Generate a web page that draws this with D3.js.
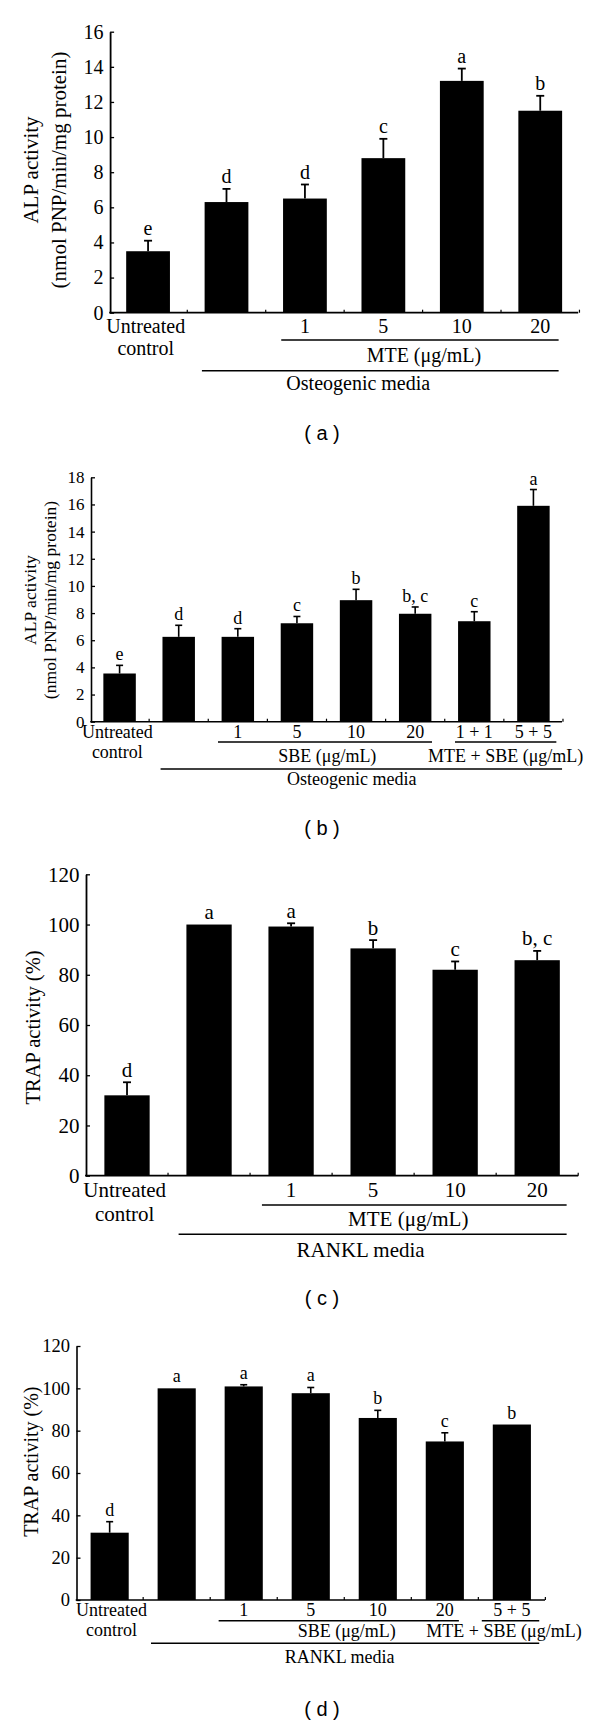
<!DOCTYPE html>
<html><head><meta charset="utf-8">
<script src="https://cdn.jsdelivr.net/npm/d3@7"></script>
<style>body{margin:0;background:#fff}svg{display:block}text{font-family:"Liberation Serif","Times New Roman",serif;fill:#000}</style>
</head><body>
<script>
// ---------- Panel (a) ----------
const aTickLabels = [["Untreated","control"],[""],["1"],["5"],["10"],["20"]];
const aValues = [3.5, 6.3, 6.5, 8.8, 13.2, 11.5];
const aErrors = [0.6, 0.75, 0.8, 1.1, 0.7, 0.85];
const aLetters = ["e","d","d","c","a","b"];
const aYTicks = [0,2,4,6,8,10,12,14,16];
const aGroups = [{label:"MTE (\u03bcg/mL)", from:2, to:5, row:1},{label:"Osteogenic media", from:1, to:5, row:2}];
const aTitle = ["ALP activity","(nmol PNP/min/mg protein)"];

// ---------- Panel (b) ----------
const bTickLabels = [["Untreated","control"],[""],["1"],["5"],["10"],["20"],["1 + 1"],["5 + 5"]];
const bValues = [3.55, 6.25, 6.25, 7.25, 8.95, 7.95, 7.4, 15.9];
const bErrors = [0.6, 0.85, 0.6, 0.5, 0.8, 0.5, 0.7, 1.2];
const bLetters = ["e","d","d","c","b","b, c","c","a"];
const bYTicks = [0,2,4,6,8,10,12,14,16,18];
const bGroups = [{label:"SBE (\u03bcg/mL)", from:2, to:5, row:1},{label:"MTE + SBE (\u03bcg/mL)", from:6, to:7, row:1},{label:"Osteogenic media", from:1, to:7, row:2}];
const bTitle = ["ALP activity","(nmol PNP/min/mg protein)"];

// ---------- Panel (c) ----------
const cTickLabels = [["Untreated","control"],[""],["1"],["5"],["10"],["20"]];
const cValues = [32, 100, 99.2, 90.5, 82, 85.8];
const cErrors = [5.2, 0, 1.3, 3.3, 3.3, 3.7];
const cLetters = ["d","a","a","b","c","b, c"];
const cYTicks = [0,20,40,60,80,100,120];
const cGroups = [{label:"MTE (\u03bcg/mL)", from:2, to:5, row:1},{label:"RANKL media", from:1, to:5, row:2}];
const cTitle = ["TRAP activity (%)"];

// ---------- Panel (d) ----------
const dTickLabels = [["Untreated","control"],[""],["1"],["5"],["10"],["20"],["5 + 5"]];
const dValues = [31.8, 100, 100.9, 97.7, 86, 74.9, 82.9];
const dErrors = [5.2, 0, 0.8, 2.7, 3.6, 4.1, 0];
const dLetters = ["d","a","a","a","b","c","b"];
const dYTicks = [0,20,40,60,80,100,120];
const dGroups = [{label:"SBE (\u03bcg/mL)", from:2, to:5, row:1},{label:"MTE + SBE (\u03bcg/mL)", from:6, to:6, row:1},{label:"RANKL media", from:1, to:6, row:2}];
const dTitle = ["TRAP activity (%)"];

const svg = d3.select("body").append("svg").attr("width",600).attr("height",1720);

function panel(data, L){
  const g = svg.append("g");
  const n = data.values.length;
  const x = d3.scaleBand().domain(d3.range(n)).range([L.x0, L.x1]).paddingInner(L.pi).paddingOuter(L.po);
  const y = d3.scaleLinear().domain([0, data.yTicks[data.yTicks.length-1]]).range([L.y0, L.yTop]);
  const bw = x.bandwidth(), step = x.step();
  // bars
  g.selectAll("rect.bar").data(data.values).enter().append("rect")
    .attr("x",(d,i)=>x(i)).attr("width",bw)
    .attr("y",d=>y(d)).attr("height",d=>y(0)-y(d)).attr("fill","#000");
  // error bars + letters
  data.values.forEach((v,i)=>{
    const e = data.errors[i];
    const cx = x(i)+bw/2;
    if(e>0){
      g.append("line").attr("x1",cx).attr("x2",cx).attr("y1",y(v)).attr("y2",y(v+e)).attr("stroke","#000").attr("stroke-width",L.ew);
      g.append("line").attr("x1",cx-L.cap).attr("x2",cx+L.cap).attr("y1",y(v+e)).attr("y2",y(v+e)).attr("stroke","#000").attr("stroke-width",L.ew);
    }
    g.append("text").attr("x",cx).attr("y",y(v+e)-L.letterGap)
      .attr("text-anchor","middle").attr("font-size",L.letterFont).text(data.letters[i]);
  });
  // y axis (ticks point inward)
  const ya = g.append("g").attr("transform",`translate(${L.x0},0)`)
    .call(d3.axisLeft(y).tickValues(data.yTicks).tickSize(-4).tickSizeOuter(0).tickPadding(6.5));
  ya.select(".domain").attr("stroke-width",L.aw);
  ya.selectAll(".tick line").attr("stroke-width",1.3);
  ya.selectAll(".tick text").attr("font-size",L.yFont);
  // x axis with small inward ticks at band boundaries
  g.append("line").attr("x1",L.x0-L.aw/2).attr("x2",L.x1).attr("y1",L.y0).attr("y2",L.y0).attr("stroke","#000").attr("stroke-width",L.aw);
  for(let i=1;i<=n;i++){
    const tx = x(i-1) + bw + step*L.pi/2;
    g.append("line").attr("x1",tx).attr("x2",tx).attr("y1",L.y0).attr("y2",L.y0-3).attr("stroke","#000").attr("stroke-width",1.2);
  }
  // category labels
  data.tickLabels.forEach((lines,i)=>{
    lines.forEach((t,j)=>{
      g.append("text").attr("x",x(i)+bw/2 + (i===0?L.ucDx:0)).attr("y",L.labY + j*L.labLine)
        .attr("text-anchor","middle").attr("font-size",L.xFont).text(t);
    });
  });
  // group brackets
  data.groups.forEach((gr,k)=>{
    const p = L.groupPads[k];
    const xa = x(gr.from) - p[0], xb = x(gr.to)+bw + p[1];
    const ly = gr.row===1 ? L.row1Line : L.row2Line;
    const ty = gr.row===1 ? L.row1Text : L.row2Text;
    g.append("line").attr("x1",xa).attr("x2",xb).attr("y1",ly).attr("y2",ly).attr("stroke","#000").attr("stroke-width",1.6);
    g.append("text").attr("x",(xa+xb)/2 + p[2]).attr("y",ty).attr("text-anchor","middle").attr("font-size",L.xFont).text(gr.label);
  });
  // y title
  data.title.forEach((t,j)=>{
    g.append("text").attr("transform",`translate(${L.titleX[j]},${L.titleY}) rotate(-90)`)
      .attr("text-anchor","middle").attr("dominant-baseline","central").attr("font-size",L.titleFont).text(t);
  });
  // panel label
  svg.append("text").attr("x",322).attr("y",L.panelY).attr("text-anchor","middle").attr("dominant-baseline","central")
    .style("font-family","'Liberation Sans',Arial,sans-serif").attr("font-size",20).text(L.panelLabel);
}

panel({values:aValues,errors:aErrors,letters:aLetters,yTicks:aYTicks,tickLabels:aTickLabels,groups:aGroups,title:aTitle},
  {x0:110.1,x1:578.2,y0:312.7,yTop:31.7,pi:0.442,po:0.205,ew:1.8,cap:4,aw:1.8,letterGap:5.5,letterFont:20,yFont:20,xFont:20,
   labY:333,labLine:22,ucDx:-2.3,row1Line:340,row1Text:361.5,row2Line:370.7,row2Text:389.5,
   groupPads:[[1.8,-3.5,4],[2.7,-3.5,-22]],titleX:[31.4,59.3],titleY:170,titleFont:21,panelY:432.5,panelLabel:"( a )"});

panel({values:bValues,errors:bErrors,letters:bLetters,yTicks:bYTicks,tickLabels:bTickLabels,groups:bGroups,title:bTitle},
  {x0:91,x1:562,pi:0.451,po:0.209,yTop:477.3,y0:721.7,ew:1.6,cap:3.5,aw:1.6,letterGap:5,letterFont:18,yFont:17,xFont:18,
   labY:738.3,labLine:20,ucDx:-2.2,row1Line:742,row1Text:761.5,row2Line:769,row2Text:785,
   groupPads:[[3.6,0.6,2.3],[3.1,6.7,0],[1.9,12.4,-9.6]],titleX:[29.8,49.7],titleY:600,titleFont:17.6,panelY:828.3,panelLabel:"( b )"});

panel({values:cValues,errors:cErrors,letters:cLetters,yTicks:cYTicks,tickLabels:cTickLabels,groups:cGroups,title:cTitle},
  {x0:86,x1:578.2,pi:0.448,po:0.224,y0:1175.7,yTop:874.3,ew:1.8,cap:4,aw:1.8,letterGap:5.5,letterFont:21,yFont:21,xFont:21,
   labY:1197,labLine:24,ucDx:-2.3,row1Line:1205,row1Text:1226,row2Line:1234.3,row2Text:1256.5,
   groupPads:[[6.5,6.8,-6],[7.8,6.8,-12]],titleX:[32.5],titleY:1027.5,titleFont:20.5,panelY:1298.3,panelLabel:"( c )"});

panel({values:dValues,errors:dErrors,letters:dLetters,yTicks:dYTicks,tickLabels:dTickLabels,groups:dGroups,title:dTitle},
  {x0:76.5,x1:545,pi:0.431,po:0.21,y0:1600,yTop:1346,ew:1.6,cap:3.5,aw:1.6,letterGap:6,letterFont:18,yFont:18.5,xFont:18,
   labY:1616,labLine:19.5,ucDx:1.9,row1Line:1620.7,row1Text:1636.7,row2Line:1643.3,row2Text:1662.5,
   groupPads:[[6,-5,8],[11,8.3,-6.5],[6.6,8.3,-5.5]],titleX:[30.6],titleY:1461.7,titleFont:20,panelY:1709,panelLabel:"( d )"});
</script>
</body></html>
